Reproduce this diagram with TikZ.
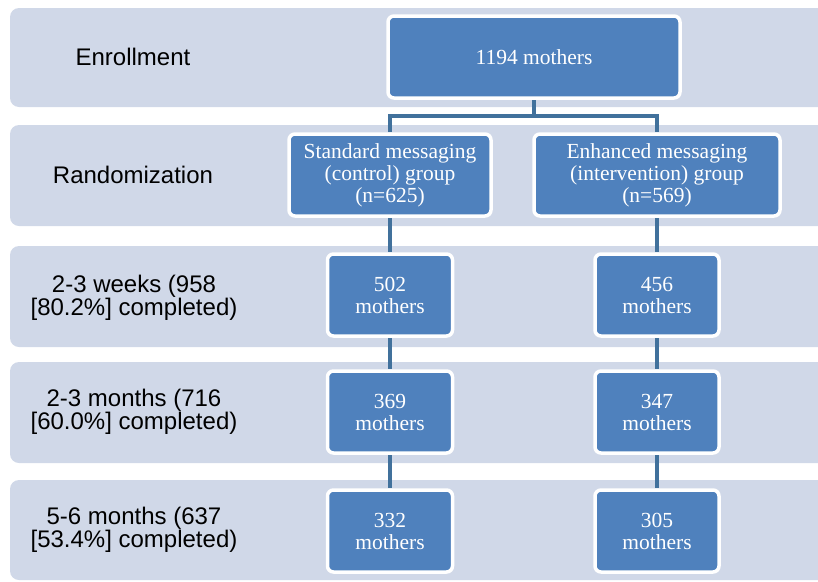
\documentclass[tikz,border=0pt]{standalone}
\usepackage{fontspec}
\setmainfont{Liberation Serif}
\newfontfamily\labfont{Liberation Sans}
\usetikzlibrary{backgrounds}
\definecolor{bandcol}{HTML}{D0D8E8}
\definecolor{boxblue}{HTML}{4F81BD}
\definecolor{linkblue}{HTML}{41719C}
\begin{document}
\begin{tikzpicture}[x=1pt,y=-1pt,
  bandbox/.style={fill=bandcol, rounded corners=9pt},
  grp/.style={draw=white, line width=3.5pt, fill=boxblue, rounded corners=6pt,
    text=white, font=\fontsize{21.5}{22}\selectfont, align=center, inner sep=0pt},
  lab/.style={font=\labfont\fontsize{24}{23}\selectfont, align=center, inner sep=0pt},
  link/.style={draw=linkblue, line width=4pt}]
\useasboundingbox (0,0) rectangle (818,581);
\clip (0,0) rectangle (818,581);
% bands
\begin{scope}[on background layer]
\fill[bandbox] (10,8) rectangle (845,107);
\fill[bandbox] (10,125) rectangle (845,226);
\fill[bandbox] (10,246) rectangle (845,347);
\fill[bandbox] (10,362) rectangle (845,463);
\fill[bandbox] (10,480) rectangle (845,580);
\end{scope}
% left labels
\node[lab] (lenr) at (133,57) {Enrollment};
\node[lab] (lrand) at (133,175) {Randomization};
\node[lab] (lw) at (134,298) {2-3 weeks (958\\{[}80.2\%{]} completed)};
\node[lab] (lm) at (134,412) {2-3 months (716\\{[}60.0\%{]} completed)};
\node[lab] (l6) at (134,530) {5-6 months (637\\{[}53.4\%{]} completed)};
% boxes
\node[grp, minimum width=292pt, minimum height=82pt] (enr) at (534,57) {1194 mothers};
\node[grp, minimum width=202pt, minimum height=82pt] (std) at (390,175) {Standard messaging\\(control) group\\(n=625)};
\node[grp, minimum width=246pt, minimum height=82pt] (enh) at (657,175) {Enhanced messaging\\(intervention) group\\(n=569)};
\node[grp, minimum width=125pt, minimum height=82pt] (s1) at (390,295) {502\\mothers};
\node[grp, minimum width=124pt, minimum height=82pt] (e1) at (657,295) {456\\mothers};
\node[grp, minimum width=125pt, minimum height=82pt] (s2) at (390,412) {369\\mothers};
\node[grp, minimum width=124pt, minimum height=82pt] (e2) at (657,412) {347\\mothers};
\node[grp, minimum width=125pt, minimum height=82pt] (s3) at (390,531) {332\\mothers};
\node[grp, minimum width=124pt, minimum height=82pt] (e3) at (657,531) {305\\mothers};
% connectors
\coordinate (split) at (534,116.5);
\begin{scope}[on background layer]
\draw[link] (enr.south) -- (split);
\draw[link] (std.north) -- ++(0,-16) -| (enh.north);
\draw[link] (std.south) -- (s1.north);
\draw[link] (s1.south) -- (s2.north);
\draw[link] (s2.south) -- (s3.north);
\draw[link] (enh.south) -- (e1.north);
\draw[link] (e1.south) -- (e2.north);
\draw[link] (e2.south) -- (e3.north);
\end{scope}
\end{tikzpicture}
\end{document}
